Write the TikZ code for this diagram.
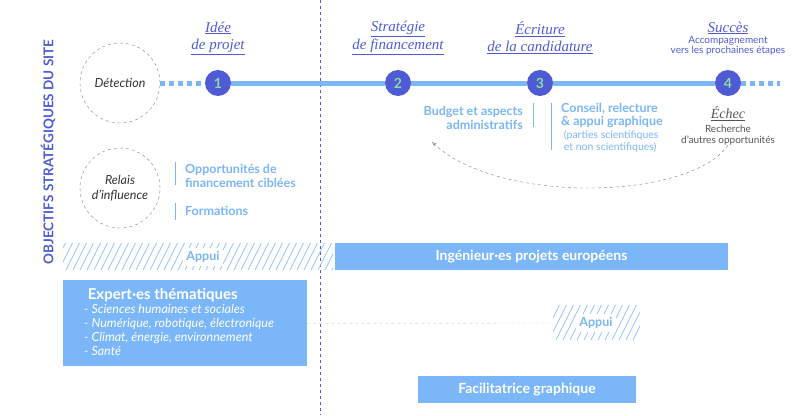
\documentclass[tikz,border=0pt]{standalone}
\usepackage{fontspec}
\setmainfont{Lato}
\newfontfamily\titlefont{Liberation Serif}
\usetikzlibrary{arrows.meta}
\definecolor{darkblue}{HTML}{4F5BD5}
\definecolor{lightblue}{HTML}{7AB6F8}
\definecolor{numgreen}{HTML}{86DCA0}
\definecolor{greytext}{HTML}{555555}
\newcommand{\fs}[1]{\fontsize{#1}{#1}\selectfont}
\newcommand{\hatchzone}[4]{%
  \begin{scope}
    \clip (#1,#2) rectangle (#3,#4);
    \foreach \hx in {-60,-53,...,800}
      \draw [lightblue!80,line width=0.8pt] (\hx,#4) -- ++(25,-50);
  \end{scope}}
\tikzset{
  stepdot/.style={circle,fill=darkblue,minimum size=26pt,inner sep=0pt,text=numgreen,font=\bfseries\fs{14}},
  steptitle/.style={align=center,text=darkblue,font=\titlefont\itshape\fs{15},inner sep=1pt},
  bluebox/.style={fill=lightblue,text=white,font=\bfseries\fs{14}},
  bluetext/.style={text=lightblue,font=\bfseries\fs{12.5},inner sep=0pt},
  roundzone/.style={circle,draw=gray,dashed,minimum size=80pt,font=\itshape\fs{12.5},align=center,text=black!80}
}
\begin{document}
\begin{tikzpicture}[x=1pt,y=-1pt]
\useasboundingbox (0,0) rectangle (800,415);

% separation
\draw [darkblue,dashed] (320,0) -- (320,415);
\node [rotate=90,text=darkblue,font=\bfseries\fs{13.5}] (axis) at (48,152) {OBJECTIFS STRATÉGIQUES DU SITE};

% zones
\node [roundzone] (detect) at (120,83) {Détection};
\node [roundzone] (relais) at (120,188) {Relais\\[2pt]d'influence};

% timeline
\node [stepdot] (s1) at (218,83) {1};
\node [stepdot] (s2) at (398,83) {2};
\node [stepdot] (s3) at (540,83) {3};
\node [stepdot] (s4) at (728,83) {4};
\coordinate (tail) at (780,83);
\draw [lightblue,line width=5pt,dash pattern=on 5pt off 4pt] (detect) -- (s1);
\draw [lightblue,line width=5pt] (s1) -- (s2) -- (s3) -- (s4);
\draw [lightblue,line width=5pt,dash pattern=on 5pt off 4pt] (s4) -- (tail);

% titles
\node [steptitle] (t1) at (218,38) {\underline{Idée}\\[2pt]\underline{de projet}};
\node [steptitle] (t2) at (398,38) {\underline{Stratégie}\\[2pt]\underline{de financement}};
\node [steptitle] (t3) at (540,38) {\underline{Écriture}\\[2pt]\underline{de la candidature}};
\node [steptitle] (t4) at (728,28) {\underline{Succès}};
\node [align=center,text=darkblue,font=\fs{10},inner sep=0pt] (t4b) at (728,46) {Accompagnement\\vers les prochaines étapes};

% details
\node [bluetext,anchor=east,align=right] (budget) at (523,118) {Budget et aspects\\[1pt]administratifs};
\draw [lightblue,line width=0.8pt] (533,103) -- (533,127);
\draw [lightblue,line width=0.8pt] (551,103) -- (551,150);
\node [bluetext,anchor=north west,align=left] (conseil) at (561,103) {Conseil, relecture\\[1pt]\& appui graphique\\{\normalfont\fs{10.5} (parties scientifiques}\\{\normalfont\fs{10.5} et non scientifiques)}};
\node [font=\titlefont\itshape\fs{14},text=greytext,inner sep=0pt] (echec) at (728,114) {\underline{Échec}};
\node [align=center,font=\fs{10},text=greytext,inner sep=0pt] (echecb) at (728,135) {Recherche\\[1pt]d'autres opportunités};
\coordinate (back) at (432,142);
\draw [gray,dashed,-{Stealth[open]}] (echecb.south) .. controls (690,200) and (500,205) .. (back);

\draw [lightblue,line width=0.8pt] (175,162) -- (175,185);
\node [bluetext,anchor=west,align=left] (oppo) at (185,176) {Opportunités de\\[1pt]financement ciblées};
\draw [lightblue,line width=0.8pt] (175,203) -- (175,220);
\node [bluetext,anchor=west] (form) at (185,211) {Formations};

% supports
\hatchzone{63}{243}{333}{270}
\node [fill=white,text=lightblue,font=\bfseries\fs{12.5}] (appui1) at (203,257) {Appui};
\node [bluebox,minimum width=393pt,minimum height=27pt] (inge) at (531.5,256.5) {Ingénieur·es projets européens};
\node [bluebox,anchor=north west,minimum width=244pt,minimum height=86pt] (expert) at (63,280) {};
\node [anchor=north west,align=left,text=white,font=\fs{12.5},inner sep=0pt] (experttxt) at (84,288) {{\bfseries\fs{15} Expert·es thématiques}\\[2pt]
\itshape - Sciences humaines et sociales\\[1.5pt]
\itshape - Numérique, robotique, électronique\\[1.5pt]
\itshape - Climat, énergie, environnement\\[1.5pt]
\itshape - Santé};
\hatchzone{553}{305}{640}{340}
\node [fill=white,text=lightblue,font=\bfseries\fs{12.5}] (appui2) at (596,323) {Appui};
\draw [lightblue!70,dashed] (expert.east) -- (553,323);
\node [bluebox,minimum width=218pt,minimum height=27pt] (facil) at (527,389.5) {Facilitatrice graphique};
\end{tikzpicture}
\end{document}
